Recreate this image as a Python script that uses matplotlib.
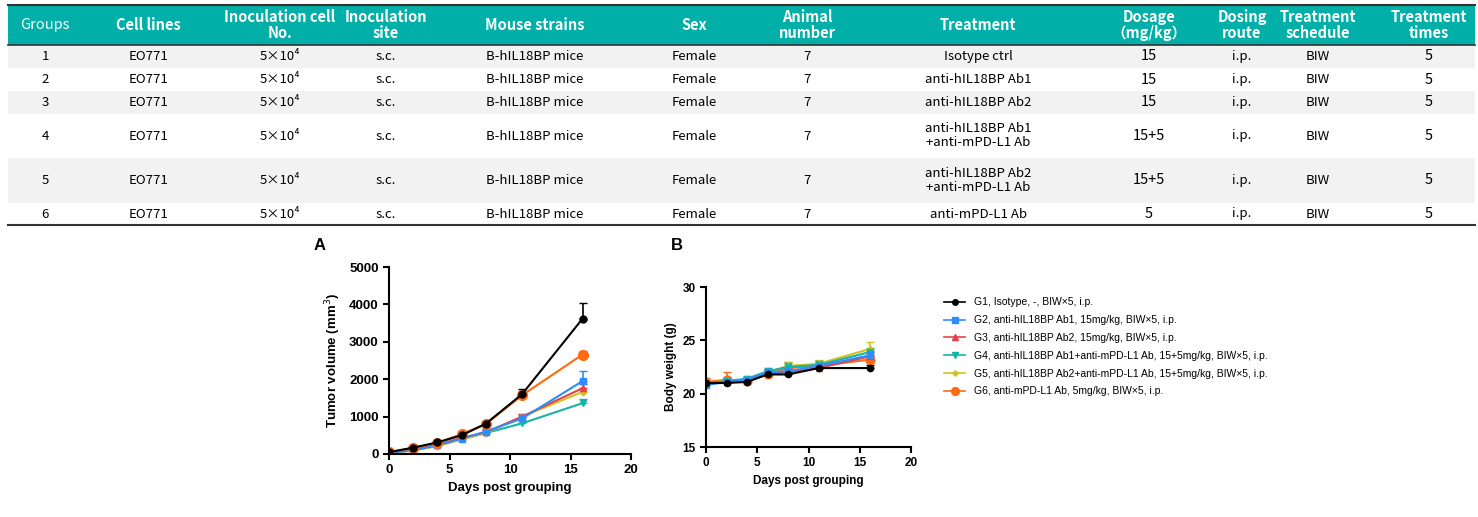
import numpy as np
import matplotlib
matplotlib.use('Agg')
import matplotlib.pyplot as plt
from matplotlib.patches import Rectangle
from matplotlib.lines import Line2D

W, H = 1478, 517

# table data
headers = ['Groups', 'Cell lines', 'Inoculation cell\nNo.', 'Inoculation\nsite', 'Mouse strains', 'Sex',
           'Animal\nnumber', 'Treatment', 'Dosage\n（mg/kg）', 'Dosing\nroute', 'Treatment\nschedule', 'Treatment\ntimes']
groups = ['1', '2', '3', '4', '5', '6']
treatments = ['Isotype ctrl', 'anti-hIL18BP Ab1', 'anti-hIL18BP Ab2',
              'anti-hIL18BP Ab1\n+anti-mPD-L1 Ab', 'anti-hIL18BP Ab2\n+anti-mPD-L1 Ab', 'anti-mPD-L1 Ab']
dosages = ['15', '15', '15', '15+5', '15+5', '5']

# growth data
days = [0, 2, 4, 6, 8, 11, 16]
labels = ['G1, Isotype, -, BIW×5, i.p.',
          'G2, anti-hIL18BP Ab1, 15mg/kg, BIW×5, i.p.',
          'G3, anti-hIL18BP Ab2, 15mg/kg, BIW×5, i.p.',
          'G4, anti-hIL18BP Ab1+anti-mPD-L1 Ab, 15+5mg/kg, BIW×5, i.p.',
          'G5, anti-hIL18BP Ab2+anti-mPD-L1 Ab, 15+5mg/kg, BIW×5, i.p.',
          'G6, anti-mPD-L1 Ab, 5mg/kg, BIW×5, i.p.']
colors = ['black', '#2F8CFF', '#E8414B', '#17B3A8', '#D2C31C', '#FF6A13']
markers = ['o', 's', '^', 'v', 'D', 'o']
msizes = [5, 5, 5, 5, 3.5, 7]
tumor = [[50, 170, 310, 500, 810, 1600, 3620],
         [30, 100, 230, 410, 600, 950, 1950],
         [40, 110, 250, 430, 580, 1000, 1760],
         [30, 100, 220, 400, 560, 820, 1360],
         [30, 90, 210, 390, 560, 1000, 1660],
         [50, 160, 300, 530, 800, 1570, 2660]]
tumor_err = [[20, 20, 30, 40, 60, 150, 430],
             [10, 15, 25, 40, 60, 90, 280],
             [10, 15, 25, 40, 50, 80, 100],
             [10, 15, 20, 30, 40, 70, 120],
             [10, 15, 20, 30, 40, 80, 100],
             [20, 20, 30, 40, 60, 120, 100]]
weight = [[21.0, 21.0, 21.1, 21.8, 21.8, 22.4, 22.4],
          [20.8, 21.1, 21.3, 22.0, 22.1, 22.6, 23.6],
          [21.0, 21.1, 21.2, 21.9, 22.0, 22.4, 23.5],
          [20.9, 21.2, 21.4, 22.1, 22.5, 22.7, 23.9],
          [21.0, 21.2, 21.3, 22.0, 22.6, 22.8, 24.2],
          [21.1, 21.3, 21.2, 21.8, 22.4, 22.6, 23.2]]
weight_err = [[0.3, 0.3, 0.3, 0.3, 0.3, 0.4, 0.3],
              [0.3, 0.3, 0.3, 0.3, 0.4, 0.4, 0.4],
              [0.3, 0.3, 0.3, 0.3, 0.4, 0.4, 0.4],
              [0.3, 0.3, 0.3, 0.3, 0.4, 0.4, 0.4],
              [0.3, 0.3, 0.3, 0.3, 0.4, 0.4, 0.6],
              [0.4, 0.7, 0.3, 0.3, 0.6, 0.5, 0.3]]

fig = plt.figure(figsize=(W / 100, H / 100), dpi=100)

# table drawn in pixel coordinates
tab = fig.add_axes([0, 0, 1, 1])
tab.set_xlim(0, W)
tab.set_ylim(H, 0)
tab.axis('off')
tfont = ['Noto Sans CJK SC', 'DejaVu Sans']
col_x = [45, 148, 280, 386, 535, 694, 807, 978, 1149, 1242, 1318, 1429]
row_edges = [45, 68, 91, 114, 158, 203, 225]
tab.add_patch(Rectangle((8, 5), 1467, 40, color='#00B0A8', lw=0))
tab.plot([8, 1475], [5, 5], color='#333333', lw=1.5)
tab.plot([8, 1475], [45, 45], color='#333333', lw=1.2)
tab.plot([8, 1475], [225, 225], color='#333333', lw=1.5)
for i in range(6):
    if i % 2 == 0:
        tab.add_patch(Rectangle((8, row_edges[i]), 1467, row_edges[i + 1] - row_edges[i],
                                color='#F2F2F2', lw=0))
for x, h in zip(col_x, headers):
    tab.text(x, 25, h, ha='center', va='center', color='white', fontsize=10.5,
             fontweight='bold' if h != 'Groups' else 'normal', family=tfont, linespacing=0.95)
for i in range(6):
    yc = (row_edges[i] + row_edges[i + 1]) / 2
    cells = [groups[i], 'EO771', '5×10⁴', 's.c.', 'B-hIL18BP mice', 'Female', '7',
             treatments[i], dosages[i], 'i.p.', 'BIW', '5']
    for x, c in zip(col_x, cells):
        fs = 10.5 if x in (1149, 1429) else 9.5
        tab.text(x, yc, c, ha='center', va='center', fontsize=fs, family=tfont, linespacing=1.1)

pfont = 'Liberation Sans'

def style(ax):
    for s in ['top', 'right']:
        ax.spines[s].set_visible(False)
    for s in ['left', 'bottom']:
        ax.spines[s].set_linewidth(1.5)
    ax.tick_params(width=1.5, length=4, labelsize=9.5)
    for t in ax.get_xticklabels() + ax.get_yticklabels():
        t.set_fontweight('bold')
        t.set_family(pfont)
    ax.set_xlim(0, 20)
    ax.set_xticks([0, 5, 10, 15, 20])
    ax.set_xlabel('Days post grouping', fontweight='bold', family=pfont, fontsize=9.5)

axA = fig.add_axes([389 / W, 1 - 454 / H, 242 / W, 187 / H])
for k in [3, 4, 2, 1, 5, 0]:
    axA.errorbar(days, tumor[k], yerr=[np.zeros(7), tumor_err[k]], color=colors[k], marker=markers[k],
                 ms=msizes[k], lw=1.5, capsize=3, elinewidth=1.2)
axA.set_ylim(0, 5000)
axA.set_yticks([0, 1000, 2000, 3000, 4000, 5000])
axA.set_ylabel('Tumor volume (mm$^3$)', fontweight='bold', family=pfont, fontsize=9.5)
style(axA)
fig.text(314 / W, 1 - 245 / H, 'A', fontweight='bold', fontsize=12, family=pfont, va='center')

axB = fig.add_axes([706 / W, 1 - 447 / H, 205 / W, 160 / H])
for k in [5, 4, 3, 2, 1, 0]:
    axB.errorbar(days, weight[k], yerr=[np.zeros(7), weight_err[k]], color=colors[k], marker=markers[k],
                 ms=msizes[k] * 0.9, lw=1.5, capsize=3, elinewidth=1.2)
axB.set_ylim(15, 30)
axB.set_yticks([15, 20, 25, 30])
axB.set_ylabel('Body weight (g)', fontweight='bold', family=pfont, fontsize=8.5)
style(axB)
axB.tick_params(labelsize=8.5)
axB.set_xlabel('Days post grouping', fontweight='bold', family=pfont, fontsize=8.5)
fig.text(671 / W, 1 - 245 / H, 'B', fontweight='bold', fontsize=12, family=pfont, va='center')

handles = [Line2D([], [], color=c, marker=m, ms=s * 0.8, lw=1.2) for c, m, s in zip(colors, markers, msizes)]
fig.legend(handles, labels, loc='upper left', bbox_to_anchor=(935 / W, 1 - 288 / H), frameon=False,
           prop={'family': 'Liberation Sans', 'size': 7.5}, handlelength=2, labelspacing=0.75)

fig.savefig('out.png', dpi=100)
